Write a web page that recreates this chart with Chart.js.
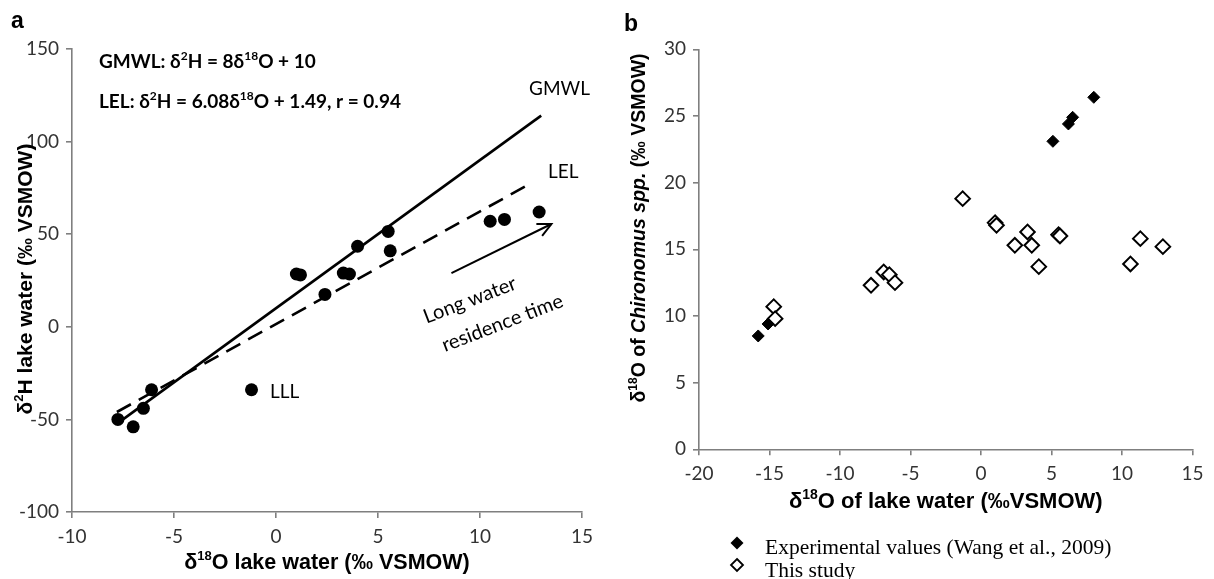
<!DOCTYPE html>
<html><head><meta charset="utf-8">
<script src="https://cdn.jsdelivr.net/npm/chart.js@4.4.1/dist/chart.umd.min.js"></script>
<style>
html,body{margin:0;padding:0;background:#fff;width:1214px;height:579px;overflow:hidden}
#wa{position:absolute;left:0;top:0;width:600px;height:579px}
#wb{position:absolute;left:600px;top:0;width:614px;height:579px}
</style></head><body>
<div id="wa"><canvas id="ca"></canvas></div>
<div id="wb"><canvas id="cb"></canvas></div>
<script>
// ---------- Panel a data ----------
const lakeO18 = [-7.75,-7.0,-6.5,-6.1,-1.2,1.0,1.2,2.4,3.3,3.6,4.0,5.5,5.6,10.5,11.2,12.9];
const lakeH2  = [-50,-54,-44,-34,-34,28.5,28,17.5,29,28.5,43.5,51.5,41,57,58,62];
const gmwlX = [-7.5, 13];
const gmwlY = [-50, 114];
const lelX = [-7.8, 12.5];
const lelY = [-46, 77.5];
const arrowX = [8.6, 13.5];
const arrowY = [29, 55.5];
const aXTicks = [-10,-5,0,5,10,15];
const aYTicks = [-100,-50,0,50,100,150];
// ---------- Panel b data ----------
const expX = [-15.8,-15.1,5.1,6.2,6.5,8.0];
const expY = [8.5,9.4,23.1,24.4,24.9,26.4];
const studyX = [-14.7,-14.6,-7.8,-6.9,-6.5,-6.1,-1.3,1.0,1.1,2.4,3.3,3.6,4.1,5.5,5.6,10.6,11.3,12.9];
const studyY = [10.7,9.8,12.3,13.3,13.1,12.5,18.8,17.0,16.8,15.3,16.3,15.3,13.7,16.1,16.0,13.9,15.8,15.2];
const bXTicks = [-20,-15,-10,-5,0,5,10,15];
const bYTicks = [0,5,10,15,20,25,30];
const legendLabels = ['Experimental values (Wang et al., 2009)', 'This study'];

const pts = (xs, ys) => xs.map((x, i) => ({x, y: ys[i]}));
const SANS = 'Lato';
const AX = '#7f7f7f';
const TICK = '#333333';

function axisCfg(ticksArr, fitProp, fitVal) {
  return {
    type: 'linear',
    min: ticksArr[0], max: ticksArr[ticksArr.length - 1],
    afterBuildTicks: s => { s.ticks = ticksArr.map(v => ({value: v})); },
    afterFit: s => { s[fitProp] = fitVal; },
    ticks: {font: {family: SANS, size: 19}, color: TICK, padding: 7, maxRotation: 0, autoSkip: false},
    grid: {drawOnChartArea: false, drawTicks: true, tickLength: 6, color: AX, lineWidth: 1.6},
    border: {color: AX, width: 1.6},
    title: {display: false}
  };
}

// draw a sequence of runs {t, sup, it}
function drawRuns(ctx, runs, x, y, size, bold, family, align) {
  const fnt = (r) => (r.it ? 'italic ' : '') + (bold ? 'bold ' : '') + (r.sup ? Math.round(size * 0.62) : size) + 'px ' + family;
  let w = 0;
  runs.forEach(r => { ctx.font = fnt(r); w += ctx.measureText(r.t).width; });
  let cx = align === 'center' ? x - w / 2 : x;
  ctx.textBaseline = 'middle';
  ctx.textAlign = 'left';
  runs.forEach(r => {
    ctx.font = fnt(r);
    ctx.fillText(r.t, cx, r.sup ? y - size * 0.32 : y);
    cx += ctx.measureText(r.t).width;
  });
}

const plugA = {
  id: 'annA',
  afterDraw(chart) {
    const {ctx, scales: {x, y}, chartArea: ca} = chart;
    ctx.save();
    ctx.fillStyle = '#000';
    ctx.strokeStyle = '#000';
    // arrow
    const x0 = x.getPixelForValue(arrowX[0]), y0 = y.getPixelForValue(arrowY[0]);
    const x1 = x.getPixelForValue(arrowX[1]), y1 = y.getPixelForValue(arrowY[1]);
    ctx.lineWidth = 2;
    ctx.beginPath(); ctx.moveTo(x0, y0); ctx.lineTo(x1, y1); ctx.stroke();
    const ang = Math.atan2(y1 - y0, x1 - x0), hl = 15;
    ctx.beginPath();
    ctx.moveTo(x1 - hl * Math.cos(ang - 0.45), y1 - hl * Math.sin(ang - 0.45));
    ctx.lineTo(x1, y1);
    ctx.lineTo(x1 - hl * Math.cos(ang + 0.45), y1 - hl * Math.sin(ang + 0.45));
    ctx.stroke();
    // panel letter
    ctx.font = 'bold 23px "Liberation Sans"';
    ctx.textBaseline = 'alphabetic'; ctx.textAlign = 'left';
    ctx.fillText('a', 11, 28);
    // equations
    drawRuns(ctx, [{t: 'GMWL: δ'}, {t: '2', sup: 1}, {t: 'H = 8δ'}, {t: '18', sup: 1}, {t: 'O + 10'}], 99, 62, 19, true, SANS, 'left');
    drawRuns(ctx, [{t: 'LEL: δ'}, {t: '2', sup: 1}, {t: 'H = 6.08δ'}, {t: '18', sup: 1}, {t: 'O + 1.49, r = 0.94'}], 99, 102, 19, true, SANS, 'left');
    // line labels
    ctx.font = '19px ' + SANS; ctx.textBaseline = 'middle';
    ctx.fillText('GMWL', 529, 89);
    ctx.fillText('LEL', 548, 172);
    ctx.fillText('LLL', 270, 392);
    // rotated text
    [[9.5, 14.4, 'Long water'], [11.1, 2.0, 'residence time']].forEach(([tx, ty, s]) => {
      ctx.save();
      ctx.translate(x.getPixelForValue(tx), y.getPixelForValue(ty));
      ctx.rotate(-21 * Math.PI / 180);
      ctx.textAlign = 'center';
      ctx.font = '20px ' + SANS;
      ctx.fillText(s, 0, 0);
      ctx.restore();
    });
    // axis titles
    drawRuns(ctx, [{t: 'δ'}, {t: '18', sup: 1}, {t: 'O lake water (‰ VSMOW)'}], (ca.left + ca.right) / 2, 563, 21.5, true, '"Liberation Sans"', 'center');
    ctx.save();
    ctx.translate(26, 279);
    ctx.rotate(-Math.PI / 2);
    drawRuns(ctx, [{t: 'δ'}, {t: '2', sup: 1}, {t: 'H lake water (‰ VSMOW)'}], 0, 0, 21, true, '"Liberation Sans"', 'center');
    ctx.restore();
    ctx.restore();
  }
};

new Chart(document.getElementById('ca'), {
  type: 'scatter',
  data: {
    datasets: [
      {label: 'GMWL', data: pts(gmwlX, gmwlY), showLine: true, borderColor: '#000', borderWidth: 2.6, pointRadius: 0, fill: false},
      {label: 'LEL', data: pts(lelX, lelY), showLine: true, borderColor: '#000', borderWidth: 2.6, borderDash: [16, 9], pointRadius: 0, fill: false},
      {label: 'Lake water', data: pts(lakeO18, lakeH2), backgroundColor: '#000', borderColor: '#000', borderWidth: 0, pointRadius: 6.5, pointStyle: 'circle'}
    ]
  },
  options: {
    responsive: true, maintainAspectRatio: false, animation: false,
    layout: {padding: {left: 0, right: 17, top: 49, bottom: 0}},
    plugins: {legend: {display: false}, tooltip: {enabled: false}},
    scales: {x: axisCfg(aXTicks, 'height', 67), y: axisCfg(aYTicks, 'width', 72)}
  },
  plugins: [plugA]
});

function diamond(ctx, cx, cy, r, filled) {
  ctx.beginPath();
  ctx.moveTo(cx, cy - r); ctx.lineTo(cx + r, cy); ctx.lineTo(cx, cy + r); ctx.lineTo(cx - r, cy); ctx.closePath();
  if (filled) { ctx.fillStyle = '#000'; ctx.fill(); }
  else { ctx.fillStyle = '#fff'; ctx.fill(); ctx.lineWidth = 1.8; ctx.strokeStyle = '#000'; ctx.stroke(); }
}

const plugB = {
  id: 'annB',
  afterDraw(chart) {
    const {ctx, chartArea: ca} = chart;
    ctx.save();
    ctx.fillStyle = '#000';
    ctx.font = 'bold 23px "Liberation Sans"';
    ctx.textBaseline = 'alphabetic'; ctx.textAlign = 'left';
    ctx.fillText('b', 24, 31);
    drawRuns(ctx, [{t: 'δ'}, {t: '18', sup: 1}, {t: 'O of lake water (‰VSMOW)'}], (ca.left + ca.right) / 2, 502, 22, true, '"Liberation Sans"', 'center');
    ctx.save();
    ctx.translate(40, 228);
    ctx.rotate(-Math.PI / 2);
    drawRuns(ctx, [{t: 'δ'}, {t: '18', sup: 1}, {t: 'O of '}, {t: 'Chironomus spp.', it: 1}, {t: ' (‰ VSMOW)'}], 0, 0, 19.5, true, '"Liberation Sans"', 'center');
    ctx.restore();
    // legend
    diamond(ctx, 137, 543, 6.5, true);
    diamond(ctx, 137, 565, 6, false);
    ctx.fillStyle = '#000';
    ctx.font = '21.5px "Liberation Serif"';
    ctx.textBaseline = 'alphabetic';
    ctx.fillText(legendLabels[0], 165, 554);
    ctx.fillText(legendLabels[1], 165, 577);
    ctx.restore();
  }
};

new Chart(document.getElementById('cb'), {
  type: 'scatter',
  data: {
    datasets: [
      {label: legendLabels[0], data: pts(expX, expY), backgroundColor: '#000', borderColor: '#000', borderWidth: 1, pointRadius: 6, pointStyle: 'rectRot'},
      {label: legendLabels[1], data: pts(studyX, studyY), backgroundColor: '#fff', borderColor: '#000', borderWidth: 2, pointRadius: 7.3, pointStyle: 'rectRot'}
    ]
  },
  options: {
    responsive: true, maintainAspectRatio: false, animation: false,
    layout: {padding: {left: 0, right: 21.5, top: 49.3, bottom: 0}},
    plugins: {legend: {display: false}, tooltip: {enabled: false}},
    scales: {x: axisCfg(bXTicks, 'height', 129.7), y: axisCfg(bYTicks, 'width', 99)}
  },
  plugins: [plugB]
});
</script>
</body></html>
